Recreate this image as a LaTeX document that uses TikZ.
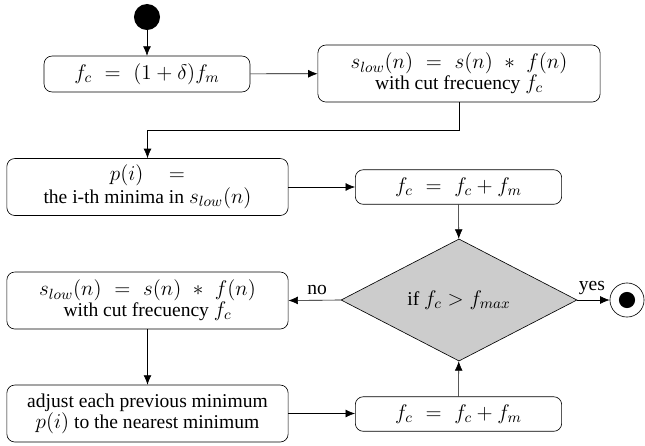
\RequirePackage{fix-cm}
\documentclass[tikz,border=0pt]{standalone}
\usepackage{amsmath, amssymb}
\usepackage{fontspec}
\setmainfont{Liberation Serif}
\usepackage{tikz}
\usetikzlibrary{arrows.meta, positioning, shapes.geometric}
\usepackage{xcolor}
\definecolor{Decision}{RGB}{204, 204, 204}
\DeclareMathSizes{12.4}{13.4}{9.4}{7}

\tikzset{
  action/.style={draw, rounded corners=5pt, align=center, inner sep=2pt},
  wide/.style={action, minimum width=6.27cm, minimum height=1.27cm},
  narrow/.style={action, minimum width=4.6cm, minimum height=0.77cm},
  flow/.style={-{Latex[length=6pt, width=5pt]}},
}
% wide spacing around = and *
\newcommand{\weq}{\hspace{0.35em}=\hspace{0.35em}}
\newcommand{\wast}{\hspace{0.35em}\ast\hspace{0.35em}}

\begin{document}
\begin{tikzpicture}[x=0.0223cm, y=-0.0223cm, font=\fontsize{12.4}{13.2}\selectfont]
      \useasboundingbox (0,0) rectangle (645,445);
      % Start
      \node[circle, fill=black, minimum size=0.58cm, inner sep=0] (start) at (147,17) {};
      % Top row
      \node[action, minimum width=4.59cm, minimum height=0.8cm] (fcinit) at (147,74) {$f_c \weq (1+\delta) f_m$};
      \node[wide, minimum width=6.29cm] (lowpassA) at (459,73.5) {$s_{low}(n) \weq s(n) \wast f(n)$\\ with cut frecuency $f_c$};
      % Minima
      \node[wide] (minima) at (147.5,187) {$p(i) \quad =$\\ the i-th minima in $s_{low}(n)$};
      \node[narrow] (stepA) at (458.5,187) {$f_c \weq f_c + f_m$};
      % Decision
      \node[diamond, draw, fill=Decision, minimum width=5.26cm, minimum height=2.61cm, inner sep=0] (check) at (459,300) {if $f_c > f_{max}$};
      \node[wide] (lowpassB) at (147.5,300.5) {$s_{low}(n) \weq s(n) \wast f(n)$\\ with cut frecuency $f_c$};
      \node[wide] (adjust) at (147.5,413.5) {adjust each previous minimum\\ $p(i)$ to the nearest minimum};
      \node[narrow] (stepB) at (458.5,414) {$f_c \weq f_c + f_m$};
      % End
      \node[circle, draw, minimum size=0.76cm, inner sep=0] (stop) at (627,300) {};
      \fill (stop.center) circle (0.18cm);
      % Arrows
      \draw[flow] (start) -- (fcinit);
      \draw[flow] (fcinit) -- (lowpassA);
      \draw[flow] (lowpassA.south) -- ++(0,28) -| (minima.north);
      \draw[flow] (minima) -- (stepA);
      \draw[flow] (stepA) -- (check);
      \draw[flow] (check.west) -- node[above, pos=0.45] {no} (lowpassB.east);
      \draw[flow] (lowpassB) -- (adjust);
      \draw[flow] (adjust.east) -- (stepB.west |- adjust.east);
      \draw[flow] (stepB) -- (check);
      \draw[flow] (check.east) -- node[above, pos=0.45] {yes} (stop);
    \end{tikzpicture}
\end{document}
